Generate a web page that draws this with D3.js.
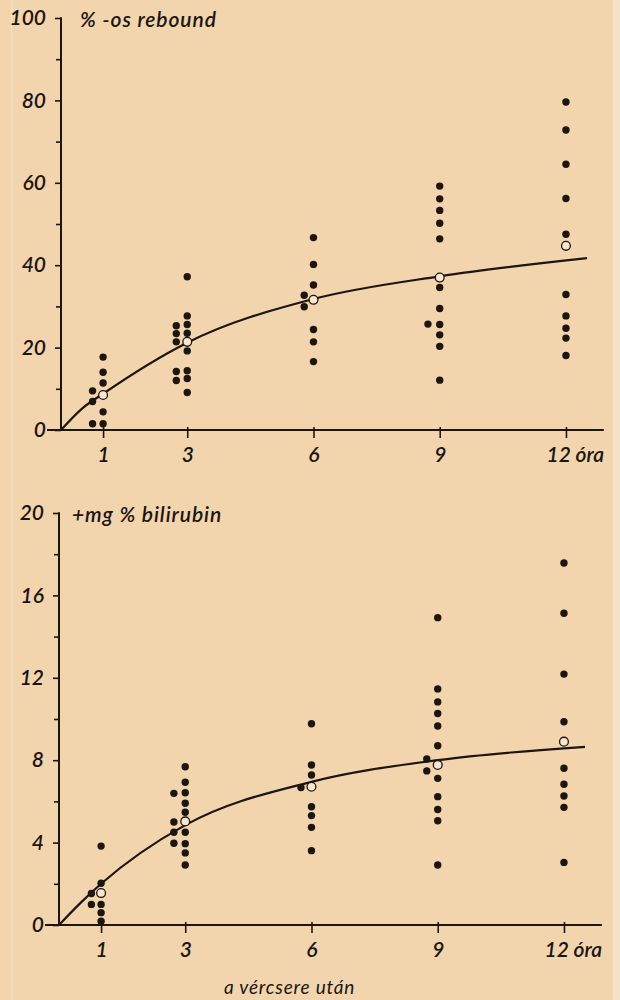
<!DOCTYPE html>
<html>
<head>
<meta charset="utf-8">
<script src="https://cdn.jsdelivr.net/npm/d3@7"></script>
<style>
  html, body { margin: 0; padding: 0; background: #f2d5ad; }
  svg { display: block; }
  text { font-family: Lato, "Open Sans", sans-serif; font-style: italic; font-weight: 600; fill: #1c1510; }
</style>
</head>
<body>
<svg id="chart" width="620" height="1000"></svg>
<script>
// ---------- data ----------
const hourTicks = [1, 3, 6, 9, 12];
const hourLabels = ["1", "3", "6", "9", "12 óra"];

// upper panel: % rebound
const reboundTicks = [0, 20, 40, 60, 80, 100];
const reboundMinor = [10, 30, 50, 70, 90];
const reboundHours = [
  1, 1, 1, 1, 1, 0.75, 0.75, 0.75,
  3, 3, 3, 3, 3, 3, 3, 3, 2.74, 2.74, 2.74, 2.74, 2.74,
  6, 6, 6, 6, 6, 6, 5.78, 5.78,
  9, 9, 9, 9, 9, 9, 9, 9, 9, 9, 9, 8.72,
  12, 12, 12, 12, 12, 12, 12, 12, 12, 12
];
const reboundValues = [
  17.7, 14.0, 11.4, 4.4, 1.5, 9.5, 6.9, 1.5,
  37.2, 27.7, 25.6, 23.5, 19.2, 14.4, 12.5, 9.1, 25.3, 23.4, 21.4, 14.2, 12.0,
  46.7, 40.2, 35.2, 24.4, 21.4, 16.6, 32.7, 29.9,
  59.2, 56.1, 53.3, 50.2, 46.4, 34.6, 29.5, 25.6, 23.1, 20.3, 12.1, 25.7,
  79.6, 72.8, 64.5, 56.2, 47.5, 32.9, 27.7, 24.7, 22.3, 18.1
];
const reboundMeans = [8.5, 21.4, 31.6, 37.0, 44.7];
const reboundCurveHours = [0, 0.5, 1, 3, 6, 9, 12.5];
const reboundCurveValues = [0, 5.2, 8.8, 21.2, 31.8, 37.3, 41.7];

// lower panel: + mg % bilirubin
const biliTicks = [0, 4, 8, 12, 16, 20];
const biliMinor = [2, 6, 10, 14, 18];
const biliHours = [
  1, 1, 1, 1, 1, 0.77, 0.77,
  3, 3, 3, 3, 3, 3, 3, 3, 3, 2.73, 2.73, 2.73, 2.73,
  6, 6, 6, 6, 6, 6, 6, 5.75,
  9, 9, 9, 9, 9, 9, 9, 9, 9, 9, 9, 8.74, 8.74,
  12, 12, 12, 12, 12, 12, 12, 12, 12
];
const biliValues = [
  3.83, 2.03, 1.0, 0.6, 0.18, 1.53, 1.0,
  7.68, 6.93, 6.42, 5.91, 5.47, 4.50, 3.95, 3.50, 2.91, 6.39, 5.0, 4.5, 3.97,
  9.77, 7.77, 7.28, 5.74, 5.31, 4.74, 3.61, 6.67,
  14.92, 11.46, 10.83, 10.27, 9.66, 8.70, 7.12, 6.23, 5.61, 5.06, 2.91, 8.06, 7.48,
  17.57, 15.13, 12.18, 9.87, 7.61, 6.83, 6.26, 5.71, 3.04
];
const biliMeans = [1.55, 5.03, 6.71, 7.77, 8.90];
const biliCurveHours = [0, 0.5, 1, 3, 6, 9, 12.5];
const biliCurveValues = [0, 1.05, 2.0, 4.85, 6.95, 8.0, 8.65];

const topTitle = "% -os rebound";
const bottomTitle = "+mg % bilirubin";
const xTitle = "a vércsere után";

// ---------- drawing ----------
const svg = d3.select("#chart");
const ink = "#1c1510";

svg.append("rect").attr("x", 0).attr("y", 0).attr("width", 620).attr("height", 1000).attr("fill", "#f2d5ad");
svg.append("rect").attr("x", 613).attr("y", 0).attr("width", 7).attr("height", 1000).attr("fill", "#f5e2c8");
svg.append("rect").attr("x", 11).attr("y", 0).attr("width", 1.5).attr("height", 1000).attr("fill", "#f6e2c6").attr("opacity", 0.7);

function panel(opts) {
  const x = d3.scaleLinear().domain([0, 12.9]).range([opts.x0, opts.x0 + 12.9 * 42.08]);
  const y = d3.scaleLinear().domain([0, opts.yMax]).range([opts.yBase, opts.yTop]);
  const g = svg.append("g");

  // y axis
  const yAxis = g.append("g").attr("transform", `translate(${opts.x0},0)`)
    .call(d3.axisLeft(y).tickValues(opts.ticks).tickSize(6).tickPadding(9).tickSizeOuter(0));
  yAxis.select(".domain").remove();
  g.append("g").attr("transform", `translate(${opts.x0},0)`)
    .call(d3.axisLeft(y).tickValues(opts.minor).tickSize(5).tickFormat(""))
    .select(".domain").remove();
  g.selectAll(".tick line").attr("stroke", ink).attr("stroke-width", 1.6);
  yAxis.selectAll("text").attr("font-size", 21).attr("fill", ink)
    .style("font-family", "Lato").style("font-style", "italic").style("font-weight", 600);
  g.append("line").attr("x1", opts.x0).attr("x2", opts.x0)
    .attr("y1", y(0)).attr("y2", y(opts.yMax) - 0.8)
    .attr("stroke", ink).attr("stroke-width", 2);

  // x axis
  const xAxis = g.append("g").attr("transform", `translate(0,${y(0)})`)
    .call(d3.axisBottom(x).tickValues(hourTicks).tickSize(8).tickPadding(9)
      .tickFormat((d, i) => hourLabels[i]));
  xAxis.select(".domain").remove();
  xAxis.selectAll(".tick line").attr("stroke", ink).attr("stroke-width", 1.6).attr("y1", -3);
  xAxis.selectAll("text").attr("font-size", 21).attr("fill", ink)
    .style("font-family", "Lato").style("font-style", "italic").style("font-weight", 600);
  xAxis.selectAll(".tick").filter(d => d === 12).select("text")
    .attr("text-anchor", "start").attr("dx", -20);
  g.append("line").attr("x1", opts.x0 - 14).attr("x2", x(12.9))
    .attr("y1", y(0)).attr("y2", y(0))
    .attr("stroke", ink).attr("stroke-width", 2);

  // title
  g.append("text").attr("x", opts.titleX).attr("y", y(opts.yMax) + 9)
    .attr("font-size", 21).attr("letter-spacing", 0.9).text(opts.title);

  // curve
  const line = d3.line().x((d, i) => x(opts.curveH[i])).y(d => y(d)).curve(d3.curveMonotoneX);
  g.append("path").datum(opts.curveV).attr("d", line)
    .attr("fill", "none").attr("stroke", ink).attr("stroke-width", 2.2);

  // dots
  g.selectAll("circle.pt").data(opts.values).join("circle").attr("class", "pt")
    .attr("cx", (d, i) => x(opts.hours[i])).attr("cy", d => y(d))
    .attr("r", 3.7).attr("fill", ink);

  // means (open circles)
  g.selectAll("circle.mean").data(opts.means).join("circle").attr("class", "mean")
    .attr("cx", (d, i) => x(hourTicks[i])).attr("cy", d => y(d))
    .attr("r", 4.4).attr("fill", "#f8e7cf").attr("stroke", ink).attr("stroke-width", 1.3);
  return { x, y };
}

panel({
  x0: 61, yBase: 430, yTop: 18, yMax: 100,
  ticks: reboundTicks, minor: reboundMinor,
  hours: reboundHours, values: reboundValues, means: reboundMeans,
  curveH: reboundCurveHours, curveV: reboundCurveValues,
  title: topTitle, titleX: 80
});

panel({
  x0: 59, yBase: 925, yTop: 513, yMax: 20,
  ticks: biliTicks, minor: biliMinor,
  hours: biliHours, values: biliValues, means: biliMeans,
  curveH: biliCurveHours, curveV: biliCurveValues,
  title: bottomTitle, titleX: 72
});

svg.append("text").attr("x", 224).attr("y", 994).attr("font-size", 19)
  .attr("letter-spacing", 0.8).style("font-weight", 400).text(xTitle);
</script>
</body>
</html>
